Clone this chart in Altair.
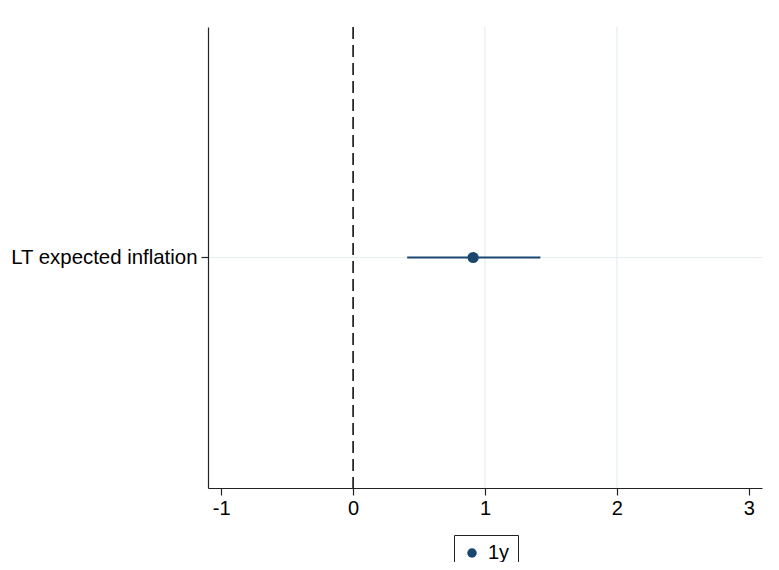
import altair as alt
import pandas as pd

# Data
variables = ["LT expected inflation"]
series = ["1y"]
coef = [0.91]
ci_low = [0.41]
ci_high = [1.42]
x_ticks = [-1, 0, 1, 2, 3]
grid_ticks = [1, 2]
ref_line = [0]

df = pd.DataFrame({"var": variables, "series": series, "coef": coef,
                   "lo": ci_low, "hi": ci_high})
grid_df = pd.DataFrame({"x": grid_ticks})
ref_df = pd.DataFrame({"x": ref_line})

FONT = "Liberation Sans"
NAVY = "#1a476f"

xscale = alt.Scale(domain=[-1.1, 3.1], nice=False, zero=False)
xaxis = alt.Axis(values=x_ticks, grid=False, title=None, labelFontSize=20,
                 labelColor="#000", labelExpr="'' + datum.value",
                 tickSize=7, tickColor="#222", tickWidth=1.2,
                 domainColor="#222", domainWidth=1.2, labelPadding=3)
yaxis = alt.Axis(title=None, labelFontSize=20.4, labelColor="#000", grid=True,
                 gridColor="#e4eef1", gridWidth=1.2, tickSize=7,
                 tickColor="#222", tickWidth=1.2, domainColor="#222",
                 domainWidth=1.2, labelPadding=4, labelLimit=400)

grid = alt.Chart(grid_df).mark_rule(color="#e4eef1", strokeWidth=1.2).encode(
    x=alt.X("x:Q", scale=xscale, axis=xaxis)
)

zero = alt.Chart(ref_df).mark_rule(color="#000", strokeWidth=1.5,
                                   strokeDash=[12, 6]).encode(
    x=alt.X("x:Q", scale=xscale, axis=xaxis)
)

ci = alt.Chart(df).mark_rule(color=NAVY, strokeWidth=2).encode(
    x=alt.X("lo:Q", scale=xscale, axis=xaxis),
    x2="hi:Q",
    y=alt.Y("var:N", axis=yaxis),
)

pts = alt.Chart(df).mark_point(filled=True, size=125, opacity=1).encode(
    x=alt.X("coef:Q", scale=xscale, axis=xaxis),
    y=alt.Y("var:N", axis=yaxis),
    color=alt.Color("series:N", scale=alt.Scale(range=[NAVY]),
                    legend=alt.Legend(orient="none", legendX=246, legendY=508,
                                      title=None, strokeColor="#222",
                                      fillColor="white", padding=8,
                                      symbolType="circle", symbolSize=90,
                                      symbolStrokeWidth=0, labelFontSize=20,
                                      labelColor="#000", labelOffset=6,
                                      cornerRadius=0)),
)

chart = alt.layer(grid, zero, ci, pts).properties(
    width=554, height=461,
    autosize=alt.AutoSizeParams(type="none"),
    padding={"left": 200, "top": 19, "right": 5, "bottom": 74},
).configure(font=FONT).configure_view(stroke=None)

chart.save("out.html", embed_options={"renderer": "svg", "actions": False})
